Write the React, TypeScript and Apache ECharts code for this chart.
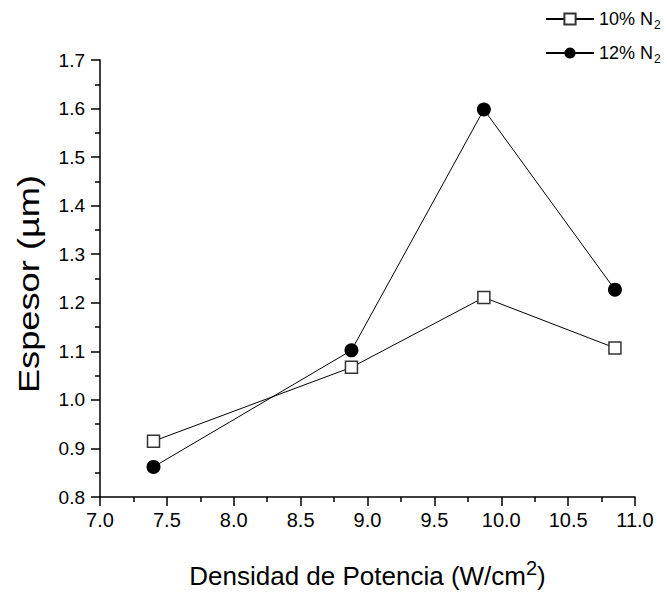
import React, { useEffect, useRef } from "react";
import * as echarts from "echarts";

const xValues = [7.4, 8.88, 9.87, 10.85];
const series10 = [0.915, 1.067, 1.211, 1.107];
const series12 = [0.862, 1.102, 1.598, 1.227];
const seriesNames = ["10% N2", "12% N2"];
const yTitle = "Espesor (µm)";

export default function App() {
  const ref = useRef<HTMLDivElement>(null);
  useEffect(() => {
    const chart = echarts.init(ref.current!, null, { renderer: "svg" });
    const font = "Liberation Sans";
    chart.setOption({
      animation: false,
      backgroundColor: "#fff",
      grid: { left: 100, right: 32, top: 60, bottom: 97 },
      graphic: [
        {
          type: "text",
          x: 29,
          y: 284,
          rotation: Math.PI / 2,
          scaleX: 1.25,
          scaleY: 1,
          style: {
            text: yTitle,
            font: '29px "Liberation Sans"',
            fill: "#000",
            align: "center",
            verticalAlign: "middle",
          },
        },
      ],
      legend: {
        orient: "vertical",
        left: 540,
        top: 2,
        itemWidth: 48,
        itemHeight: 14,
        itemGap: 10,
        itemTextGap: 7,
        data: seriesNames,
        formatter: (name: string) => `{a|${name.slice(0, -1)}}{b|${name.slice(-1)}}`,
        textStyle: {
          fontSize: 18,
          fontFamily: font,
          color: "#000",
          rich: {
            a: { fontSize: 18, fontFamily: font, color: "#000", lineHeight: 24 },
            b: { fontSize: 12, fontFamily: font, color: "#000", lineHeight: 24, padding: [12, 0, 0, 1] },
          },
        },
      },
      xAxis: {
        type: "value",
        min: 7,
        max: 11,
        interval: 0.5,
        name: "{t|Densidad de Potencia (W/cm}{s|2}{t|)}",
        nameLocation: "middle",
        nameGap: 58,
        nameTextStyle: {
          rich: {
            t: { fontSize: 26, fontFamily: font, color: "#000", padding: [8, 0, 0, 0] },
            s: { fontSize: 20, fontFamily: font, color: "#000", padding: [0, 0, 8, 0] },
          },
        },
        axisLine: { show: true, lineStyle: { color: "#000", width: 1.5 } },
        axisTick: { show: true, length: 9, inside: false, lineStyle: { color: "#000", width: 1.5 } },
        minorTick: { show: true, splitNumber: 2, length: 5, lineStyle: { color: "#000", width: 1.5 } },
        axisLabel: { fontSize: 20, color: "#000", fontFamily: font, margin: 13, formatter: (v: number) => v.toFixed(1) },
        splitLine: { show: false },
      },
      yAxis: {
        type: "value",
        min: 0.8,
        max: 1.7,
        interval: 0.1,
        axisLine: { show: true, lineStyle: { color: "#000", width: 1.5 } },
        axisTick: { show: true, length: 9, lineStyle: { color: "#000", width: 1.5 } },
        minorTick: { show: true, splitNumber: 2, length: 5, lineStyle: { color: "#000", width: 1.5 } },
        axisLabel: { fontSize: 19, color: "#000", fontFamily: font, margin: 15, formatter: (v: number) => v.toFixed(1) },
        splitLine: { show: false },
      },
      series: [
        {
          name: seriesNames[0],
          type: "line",
          data: xValues.map((x, i) => [x, series10[i]]),
          symbol: "rect",
          symbolSize: 12,
          itemStyle: { color: "#fff", borderColor: "#333", borderWidth: 1.5 },
          lineStyle: { color: "#000", width: 1 },
        },
        {
          name: seriesNames[1],
          type: "line",
          data: xValues.map((x, i) => [x, series12[i]]),
          symbol: "circle",
          symbolSize: 14,
          itemStyle: { color: "#000", borderColor: "#000", borderWidth: 0 },
          lineStyle: { color: "#000", width: 1 },
        },
      ],
    });
    return () => chart.dispose();
  }, []);
  return <div ref={ref} style={{ width: 667, height: 594, position: "absolute", left: 0, top: 0 }} />;
}
